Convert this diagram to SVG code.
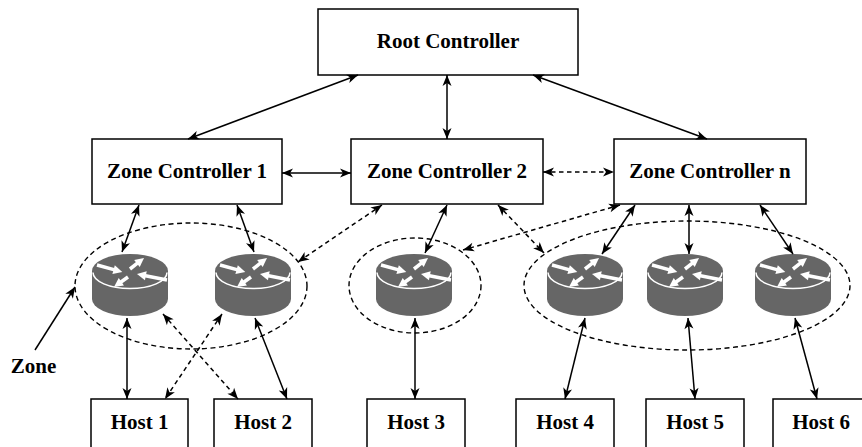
<svg xmlns="http://www.w3.org/2000/svg" width="862" height="447" viewBox="0 0 862 447">
<style>
.box{fill:#fff;stroke:#000;stroke-width:1.5}
.lbl{font-family:"Liberation Serif","Times New Roman",serif;font-weight:bold;font-size:21px;fill:#000;text-anchor:middle}
.c{fill:none;stroke:#000;stroke-width:1.5;marker-start:url(#ah);marker-end:url(#ah)}
.d{stroke-dasharray:4.5,3.5}
.zone{fill:none;stroke:#000;stroke-width:1.4;stroke-dasharray:5,3.5}
.wa{stroke:#fff;stroke-width:3.5;fill:none;marker-end:url(#wh)}
</style>
<defs>
<marker id="ah" markerUnits="userSpaceOnUse" markerWidth="12" markerHeight="10" refX="11" refY="5" orient="auto-start-reverse" overflow="visible">
<path d="M0,0.5 L11,5 L0,9.5 L3,5 Z" fill="#000"/>
</marker>
<marker id="wh" markerUnits="userSpaceOnUse" markerWidth="9" markerHeight="9" refX="3" refY="4.5" orient="auto" overflow="visible">
<path d="M0,0 L9,4.5 L0,9 Z" fill="#fff"/>
</marker>
<g id="router">
<path d="M-38,0 L-38,28 A38,17 0 0 0 38,28 L38,0 Z" fill="#666"/>
<ellipse cx="0" cy="0" rx="38" ry="17" fill="#666"/>
<path d="M-37,1.5 A37,16 0 0 0 37,1.5" fill="none" stroke="#fff" stroke-width="1.5"/>
<line class="wa" x1="-33" y1="-6" x2="-13.5" y2="-0.6"/>
<line class="wa" x1="0" y1="-2" x2="9.3" y2="-9.3"/>
<line class="wa" x1="37" y1="9" x2="12.9" y2="4.2"/>
<line class="wa" x1="-2" y1="6" x2="-11.1" y2="12.5"/>
</g>
</defs>

<g id="zones">
<ellipse class="zone" cx="191" cy="286" rx="116" ry="63"/>
<ellipse class="zone" cx="415" cy="285.5" rx="66" ry="47.5"/>
<ellipse class="zone" cx="687" cy="285.5" rx="163" ry="64.5"/>
</g>

<g id="root"><rect class="box" x="318" y="9" width="260" height="66"/><text class="lbl" x="448" y="48">Root Controller</text></g>
<g id="zc1"><rect class="box" x="92" y="139" width="190" height="65"/><text class="lbl" x="187" y="178">Zone Controller 1</text></g>
<g id="zc2"><rect class="box" x="351" y="139" width="192" height="65"/><text class="lbl" x="447" y="178">Zone Controller 2</text></g>
<g id="zcn"><rect class="box" x="614" y="139" width="192" height="65"/><text class="lbl" x="710" y="178">Zone Controller n</text></g>

<g id="r1"><use href="#router" x="130" y="271"/></g>
<g id="r2"><use href="#router" x="253" y="271"/></g>
<g id="r3"><use href="#router" x="414" y="271"/></g>
<g id="r4"><use href="#router" x="585" y="271"/></g>
<g id="r5"><use href="#router" x="685" y="271"/></g>
<g id="r6"><use href="#router" x="793" y="271"/></g>

<g id="h1"><rect class="box" x="91" y="399" width="97" height="60"/><text class="lbl" x="139.5" y="429">Host 1</text></g>
<g id="h2"><rect class="box" x="214" y="399" width="98" height="60"/><text class="lbl" x="263" y="429">Host 2</text></g>
<g id="h3"><rect class="box" x="367" y="399" width="98" height="60"/><text class="lbl" x="416" y="429">Host 3</text></g>
<g id="h4"><rect class="box" x="516" y="399" width="98" height="60"/><text class="lbl" x="565" y="429">Host 4</text></g>
<g id="h5"><rect class="box" x="646" y="399" width="98" height="60"/><text class="lbl" x="695" y="429">Host 5</text></g>
<g id="h6"><rect class="box" x="773" y="399" width="98" height="60"/><text class="lbl" x="821" y="429">Host 6</text></g>

<g id="zonelabel"><text class="lbl" x="33.5" y="373">Zone</text></g>

<g id="connectors">
<line class="c" x1="358" y1="75" x2="188" y2="139"/>
<line class="c" x1="447" y1="75" x2="447" y2="139"/>
<line class="c" x1="533" y1="75" x2="707" y2="139"/>
<line class="c" x1="282" y1="173" x2="351" y2="173"/>
<line class="c d" x1="543" y1="172" x2="614" y2="172"/>
<line class="c" x1="139" y1="205" x2="122" y2="252"/>
<line class="c" x1="237" y1="205" x2="254" y2="252"/>
<line class="c d" x1="382" y1="205" x2="298" y2="262"/>
<line class="c" x1="447" y1="205" x2="425" y2="253"/>
<line class="c d" x1="498" y1="205" x2="544" y2="253"/>
<line class="c d" x1="620" y1="205" x2="463" y2="250"/>
<line class="c" x1="635" y1="205" x2="602" y2="254"/>
<line class="c" x1="689" y1="205" x2="689" y2="254"/>
<line class="c" x1="760" y1="205" x2="793" y2="254"/>
<line class="c" x1="127" y1="318" x2="127" y2="399"/>
<line class="c d" x1="163" y1="314" x2="238" y2="399"/>
<line class="c d" x1="222" y1="314" x2="165" y2="399"/>
<line class="c" x1="255" y1="318" x2="287" y2="399"/>
<line class="c" x1="415" y1="318" x2="415" y2="399"/>
<line class="c" x1="585" y1="318" x2="565" y2="399"/>
<line class="c" x1="688" y1="318" x2="695" y2="399"/>
<line class="c" x1="795" y1="318" x2="817" y2="399"/>
<line x1="35" y1="350" x2="75" y2="287" stroke="#000" stroke-width="1.5" marker-end="url(#ah)"/>
</g>
</svg>
